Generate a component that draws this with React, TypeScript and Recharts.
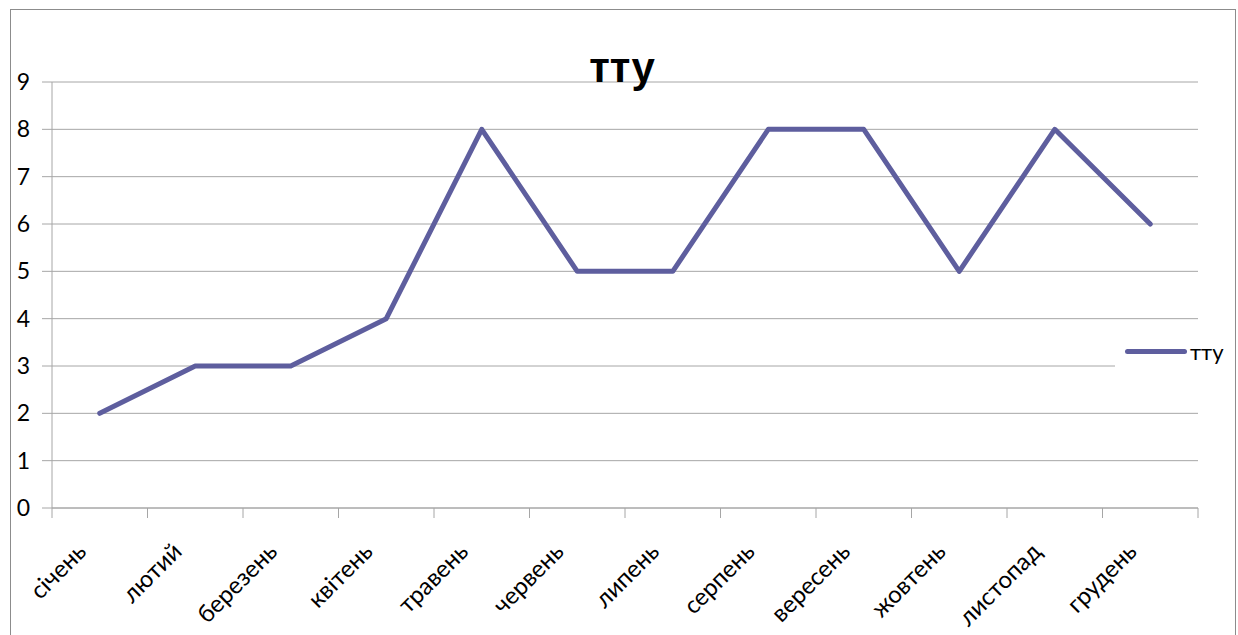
import { LineChart, Line, XAxis, YAxis, CartesianGrid } from 'recharts';

// ── Data ──────────────────────────────────────────────────────

const MONTHS = ['січень', 'лютий', 'березень', 'квітень', 'травень', 'червень', 'липень', 'серпень', 'вересень', 'жовтень', 'листопад', 'грудень'];
const VALUES = [2, 3, 3, 4, 8, 5, 5, 8, 8, 5, 8, 6];
const Y_TICKS = [0, 1, 2, 3, 4, 5, 6, 7, 8, 9];
const SERIES_NAME = 'тту';

const data = MONTHS.map((m, i) => ({ month: m, value: VALUES[i] }));

// ── Layout ────────────────────────────────────────────────────

const W = 1238;
const H = 635;
const PLOT_LEFT = 52;
const PLOT_RIGHT = 1198;
const BAND = (PLOT_RIGHT - PLOT_LEFT) / MONTHS.length;
const LINE_COLOR = '#5E5E9E';
const GRID_COLOR = '#a6a6a6';
const FONT = 'Lato, "Open Sans", sans-serif';

// category label + tick mark on the band's right boundary (Excel style)
function MonthTick(props: any) {
    const { x, y, payload, index } = props;
    const right = x + BAND / 2;
    const left = x - BAND / 2;
    const lx = x - 12;
    const ly = y + 45;
    return (
        <g>
            {index === 0 && <line x1={left} y1={y} x2={left} y2={y + 10} stroke={GRID_COLOR} />}
            <line x1={right} y1={y} x2={right} y2={y + 10} stroke={GRID_COLOR} />
            <text
                x={lx}
                y={ly}
                transform={`rotate(-45, ${lx}, ${ly})`}
                textAnchor="end"
                fontSize={24}
                fontFamily={FONT}
                fill="#000"
            >
                {payload.value}
            </text>
        </g>
    );
}

export default function App() {
    return (
        <div style={{ position: 'absolute', left: 0, top: 0, width: W, height: H, overflow: 'hidden', background: '#fff' }}>
            <div style={{ position: 'absolute', left: 10, top: 9, width: 1224, height: 700, border: '1.5px solid #8c8c8c' }} />
            <LineChart width={W} height={H} data={data} margin={{ top: 82, right: W - PLOT_RIGHT, bottom: 27, left: 10 }}>
                <CartesianGrid vertical={false} stroke={GRID_COLOR} />
                <XAxis
                    dataKey="month"
                    height={100}
                    padding={{ left: BAND / 2, right: BAND / 2 }}
                    stroke={GRID_COLOR}
                    tickLine={false}
                    tickSize={0}
                    tickMargin={0}
                    interval={0}
                    tick={<MonthTick />}
                />
                <YAxis
                    width={42}
                    domain={[0, 9]}
                    ticks={Y_TICKS}
                    interval={0}
                    stroke={GRID_COLOR}
                    tickSize={10}
                    tickMargin={12}
                    tick={{ fill: '#000', fontSize: 23, fontFamily: FONT }}
                />
                <Line
                    type="linear"
                    dataKey="value"
                    name={SERIES_NAME}
                    stroke={LINE_COLOR}
                    strokeWidth={5}
                    strokeLinejoin="round"
                    strokeLinecap="round"
                    dot={false}
                    activeDot={false}
                    isAnimationActive={false}
                />
            </LineChart>
            {/* legend */}
            <div style={{ position: 'absolute', left: 1115, top: 334, width: 120, height: 34, display: 'flex', alignItems: 'center', background: '#fff', fontFamily: FONT, fontSize: 22, color: '#000' }}>
                <div style={{ width: 62, height: 5, background: LINE_COLOR, borderRadius: 3, marginLeft: 10, marginRight: 3 }} />
                <span>{SERIES_NAME}</span>
            </div>
            {/* title */}
            <div style={{ position: 'absolute', left: 0, width: 1244, top: 43, textAlign: 'center', fontFamily: '"Liberation Sans", Arial, sans-serif', fontWeight: 'bold', fontSize: 42, lineHeight: '50px', color: '#000' }}>
                {SERIES_NAME}
            </div>
        </div>
    );
}
